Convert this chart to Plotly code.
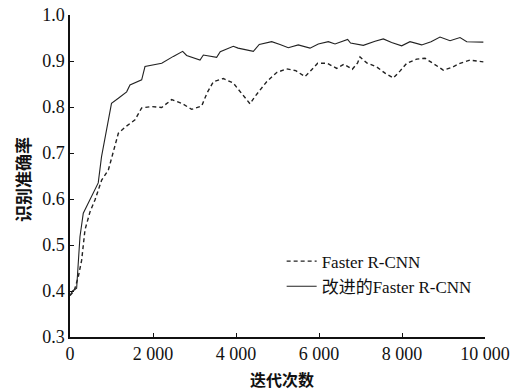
import plotly.graph_objects as go

# Iterations (x) and recognition accuracy (y)
improved_x = [0, 60, 160, 240, 320, 440, 680, 760, 885, 1000, 1165, 1365, 1445, 1727, 1807,
              2210, 2490, 2715, 2810, 3133, 3213, 3534, 3620, 3935, 4050, 4418, 4560, 4860,
              5060, 5260, 5500, 5783, 5983, 6225, 6386, 6690, 6760, 7068, 7350, 7550, 7750,
              7992, 8193, 8474, 8700, 8916, 9157, 9398, 9560, 9960]
improved_y = [0.39, 0.40, 0.406, 0.518, 0.569, 0.59, 0.635, 0.692, 0.757, 0.808, 0.819, 0.833,
              0.848, 0.859, 0.888, 0.895, 0.910, 0.921, 0.912, 0.902, 0.913, 0.908, 0.92, 0.932,
              0.928, 0.921, 0.936, 0.942, 0.936, 0.929, 0.935, 0.928, 0.937, 0.942, 0.937, 0.947,
              0.939, 0.934, 0.943, 0.948, 0.940, 0.933, 0.942, 0.935, 0.942, 0.952, 0.944, 0.951,
              0.942, 0.941]

faster_x = [0, 100, 200, 281, 361, 482, 602, 763, 924, 1084, 1165, 1325, 1566, 1727, 1968, 2210,
            2450, 2691, 2932, 3173, 3300, 3454, 3695, 3935, 4096, 4337, 4458, 4739, 4980, 5221,
            5440, 5663, 5800, 5968, 6200, 6426, 6600, 6803, 6930, 6988, 7150, 7390, 7600, 7790,
            7950, 8113, 8353, 8554, 8780, 8996, 9200, 9398, 9640, 9960]
faster_y = [0.39, 0.40, 0.431, 0.467, 0.533, 0.572, 0.598, 0.641, 0.663, 0.714, 0.743, 0.756,
            0.772, 0.798, 0.801, 0.799, 0.816, 0.808, 0.795, 0.802, 0.830, 0.855, 0.862, 0.852,
            0.833, 0.807, 0.823, 0.855, 0.875, 0.883, 0.879, 0.866, 0.879, 0.895, 0.895, 0.884,
            0.893, 0.882, 0.896, 0.909, 0.896, 0.887, 0.873, 0.863, 0.878, 0.895, 0.904, 0.906,
            0.893, 0.880, 0.886, 0.895, 0.902, 0.898]

x_tickvals = [0, 2000, 4000, 6000, 8000, 10000]
x_ticktext = ["0", "2 000", "4 000", "6 000", "8 000", "10 000"]
y_tickvals = [0.3, 0.4, 0.5, 0.6, 0.7, 0.8, 0.9, 1.0]
y_ticktext = ["0.3", "0.4", "0.5", "0.6", "0.7", "0.8", "0.9", "1.0"]

x_title = "迭代次数"
y_title = "识别准确率"

SERIF = "Liberation Serif, Times New Roman, Noto Sans CJK SC, serif"
CJK = "Noto Sans CJK SC"

fig = go.Figure()
fig.add_trace(go.Scatter(x=faster_x, y=faster_y, mode="lines", name="Faster R-CNN",
                         line=dict(color="#222222", width=1.4, dash="4px,3px")))
fig.add_trace(go.Scatter(x=improved_x, y=improved_y, mode="lines", name="改进的Faster R-CNN",
                         line=dict(color="#222222", width=1.1)))

axis_common = dict(showgrid=False, zeroline=False, showline=True, linecolor="#111111",
                   linewidth=1.5, ticks="inside", ticklen=4, tickcolor="#111111",
                   tickwidth=1.2, automargin=False, ticklabeloverflow="allow",
                   tickfont=dict(family=SERIF, size=18))

fig.update_layout(
    width=515, height=392,
    margin=dict(l=70, r=30, t=15, b=55),
    paper_bgcolor="white", plot_bgcolor="white",
    font=dict(family=SERIF, size=17, color="#111111"),
    showlegend=True,
    legend=dict(x=0.51, y=0.29, xanchor="left", yanchor="top",
                bgcolor="rgba(0,0,0,0)", borderwidth=0,
                font=dict(family=SERIF, size=17), tracegroupgap=0,
                itemwidth=30),
    xaxis=dict(range=[0, 10000], tickvals=x_tickvals, ticktext=x_ticktext, **axis_common),
    yaxis=dict(range=[0.3, 1.0], tickvals=y_tickvals, ticktext=y_ticktext, **axis_common),
    annotations=[
        dict(text="<b>" + x_title + "</b>", xref="paper", yref="paper", x=0.5, y=0,
             xanchor="center", yanchor="middle", yshift=-42, xshift=4, showarrow=False,
             font=dict(family=CJK, size=16)),
        dict(text="<b>" + y_title + "</b>", xref="paper", yref="paper", x=0, y=0.5,
             xanchor="center", yanchor="middle", xshift=-48, yshift=-4, textangle=-90,
             showarrow=False, font=dict(family=CJK, size=17)),
    ],
)

# Remove the browser's default 8px body margin so the figure fills the window exactly.
fig.write_html("out.html", config={"displayModeBar": False},
               post_script="document.body.style.margin='0';document.body.style.overflow='hidden';")
